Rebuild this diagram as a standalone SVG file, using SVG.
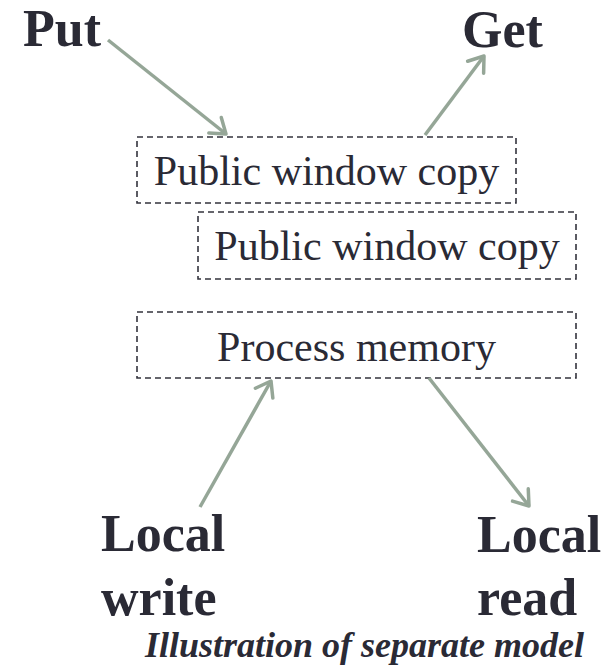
<svg xmlns="http://www.w3.org/2000/svg" width="615" height="667" viewBox="0 0 615 667">
<defs>
<style>
.box{fill:none;stroke:#33333d;stroke-width:1.6;stroke-dasharray:6 4}
.lbl{font-size:42px;fill:#2a2a35;text-anchor:middle}
.big{font-size:52px;font-weight:bold;fill:#2a2a35}
.cap{font-size:36px;font-weight:bold;font-style:italic;fill:#2a2a35}
.arr{stroke:#95a697;stroke-width:3.5;fill:none;marker-end:url(#ah)}
</style>
<marker id="ah" markerUnits="userSpaceOnUse" markerWidth="40" markerHeight="40" refX="20" refY="20" orient="auto" viewBox="0 0 40 40">
<path d="M6 10 L20 20 L6 30" fill="none" stroke="#95a697" stroke-width="3.5" stroke-linecap="round" stroke-linejoin="round"/>
</marker>
</defs>
<rect width="615" height="667" fill="#ffffff"/>
<g font-family="'Liberation Serif', 'Times New Roman', 'DejaVu Serif', serif">
<g id="put"><text class="big" x="23" y="46">Put</text></g>
<g id="get"><text class="big" x="462" y="47">Get</text></g>
<g id="public1"><rect class="box" x="137" y="137" width="379" height="66"/><text class="lbl" x="326.5" y="185">Public window copy</text></g>
<g id="public2"><rect class="box" x="198" y="212" width="378" height="67"/><text class="lbl" x="387" y="260">Public window copy</text></g>
<g id="process"><rect class="box" x="137" y="312" width="439" height="66"/><text class="lbl" x="356.5" y="361">Process memory</text></g>
<g id="localwrite"><text class="big" x="101" y="551">Local</text><text class="big" x="101" y="615">write</text></g>
<g id="localread"><text class="big" x="477" y="552">Local</text><text class="big" x="477" y="615">read</text></g>
<g id="caption"><text class="cap" x="145" y="657">Illustration of separate model</text></g>
</g>
<g id="connectors">
<line class="arr" x1="108" y1="40" x2="226" y2="134"/>
<line class="arr" x1="425" y1="135" x2="484" y2="56"/>
<line class="arr" x1="200" y1="507" x2="271" y2="381"/>
<line class="arr" x1="429" y1="378" x2="529" y2="506"/>
</g>
</svg>
